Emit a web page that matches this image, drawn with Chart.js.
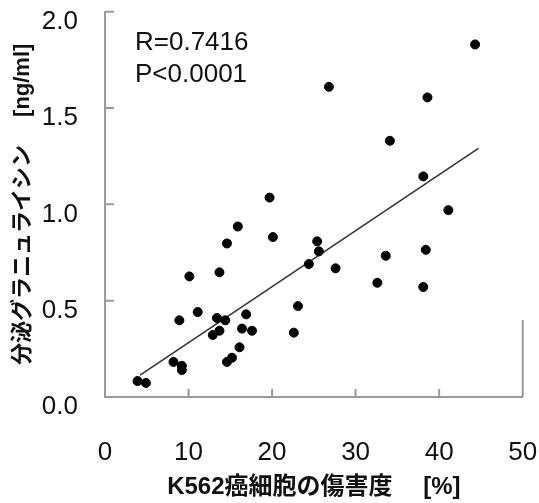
<!DOCTYPE html>
<html><head><meta charset="utf-8">
<script src="https://cdn.jsdelivr.net/npm/chart.js@4/dist/chart.umd.min.js"></script>
<style>html,body{margin:0;padding:0;background:#fff}#wrap{width:539px;height:503px}</style>
</head><body><div id="wrap"><canvas id="c" width="539" height="503"></canvas></div>
<script>
const damage = [44.3,26.8,38.6,34.1,38.1,19.7,41.1,15.9,20.1,14.6,25.4,25.6,38.4,33.6,24.4,27.6,13.7,10.1,32.6,38.1,23.1,11.1,16.9,8.9,13.4,14.4,16.4,17.6,13.7,12.9,22.6,16.1,15.2,14.6,8.2,9.2,9.2,3.9,4.9];
const granulysin = [1.83,1.61,1.555,1.33,1.145,1.035,0.97,0.885,0.83,0.797,0.808,0.756,0.764,0.733,0.69,0.668,0.647,0.626,0.593,0.571,0.472,0.441,0.429,0.398,0.41,0.398,0.355,0.344,0.344,0.322,0.334,0.258,0.204,0.182,0.182,0.162,0.14,0.083,0.073];
const trendX = [4.2, 44.7];
const trendY = [0.114, 1.29];
const xTicks = [0,10,20,30,40,50];
const yTicks = [0.0,0.5,1.0,1.5,2.0];
const statLines = ['R=0.7416','P<0.0001'];
const xTitle = 'K562癌細胞の傷害度　 [%]';
const yTitle = '分泌グラニュライシン　 [ng/ml]';

const FONT = "'Liberation Sans', Arial, 'Noto Sans CJK JP', sans-serif";
const AXIS = '#9a9a9a';

const decor = {
  id: 'decor',
  afterDraw(chart) {
    const ctx = chart.ctx, xs = chart.scales.x, ys = chart.scales.y;
    ctx.save();
    ctx.strokeStyle = AXIS; ctx.lineWidth = 2;
    const x0 = xs.getPixelForValue(xTicks[0]), y0 = ys.getPixelForValue(yTicks[0]);
    ctx.beginPath();
    yTicks.slice(1).forEach(v => { const p = ys.getPixelForValue(v); ctx.moveTo(x0, p); ctx.lineTo(x0 + 9, p); });
    xTicks.slice(1).forEach(v => { const p = xs.getPixelForValue(v); ctx.moveTo(p, y0); ctx.lineTo(p, y0 - 8); });
    const xr = xs.getPixelForValue(xTicks[xTicks.length-1]);
    ctx.moveTo(xr, y0); ctx.lineTo(xr, ys.getPixelForValue(0.4));
    ctx.stroke();
    ctx.fillStyle = '#111';
    ctx.font = '26px ' + FONT;
    ctx.textAlign = 'left'; ctx.textBaseline = 'alphabetic';
    ctx.fillText(statLines[0], 135, 50);
    ctx.fillText(statLines[1], 135, 82);
    ctx.restore();
  }
};

new Chart(document.getElementById('c'), {
  data: {
    datasets: [
      { type: 'scatter', data: damage.map((x,i)=>({x, y: granulysin[i]})), backgroundColor: '#000', borderColor: '#000', pointRadius: 4.5, pointHoverRadius: 4.5, order: 1 },
      { type: 'line', data: trendX.map((x,i)=>({x, y: trendY[i]})), borderColor: '#333', borderWidth: 1.5, pointRadius: 0, fill: false, order: 2 }
    ]
  },
  options: {
    responsive: false, animation: false,
    layout: { padding: { top: 11.7, right: 16.3, left: 0, bottom: 0 } },
    plugins: { legend: { display: false }, tooltip: { enabled: false } },
    scales: {
      x: {
        type: 'linear', min: 0, max: 50,
        afterBuildTicks: s => { s.ticks = xTicks.map(v => ({ value: v })); },
        afterFit: s => { s.height = 106; s.paddingLeft = 0; s.paddingRight = 0; },
        grid: { display: false },
        border: { display: true, color: AXIS, width: 2 },
        ticks: { color: '#111', font: { family: FONT, size: 26 }, padding: 32, maxRotation: 0, callback: v => String(v) },
        title: { display: true, text: xTitle, color: '#111', font: { family: FONT, size: 24, weight: 'bold' }, padding: { top: 0, bottom: 1 } }
      },
      y: {
        type: 'linear', min: 0, max: 2,
        afterBuildTicks: s => { s.ticks = yTicks.map(v => ({ value: v })); },
        afterFit: s => { s.width = 105; s.paddingTop = 0; s.paddingBottom = 0; },
        grid: { display: false },
        border: { display: true, color: AXIS, width: 2 },
        ticks: { color: '#111', font: { family: FONT, size: 26 }, padding: 19, labelOffset: 10, callback: v => Number(v).toFixed(1) },
        title: { display: true, text: yTitle, color: '#111', font: { family: FONT, size: 22, weight: 'bold' }, padding: { top: 10, bottom: 0 } }
      }
    }
  },
  plugins: [decor]
});
</script></body></html>
